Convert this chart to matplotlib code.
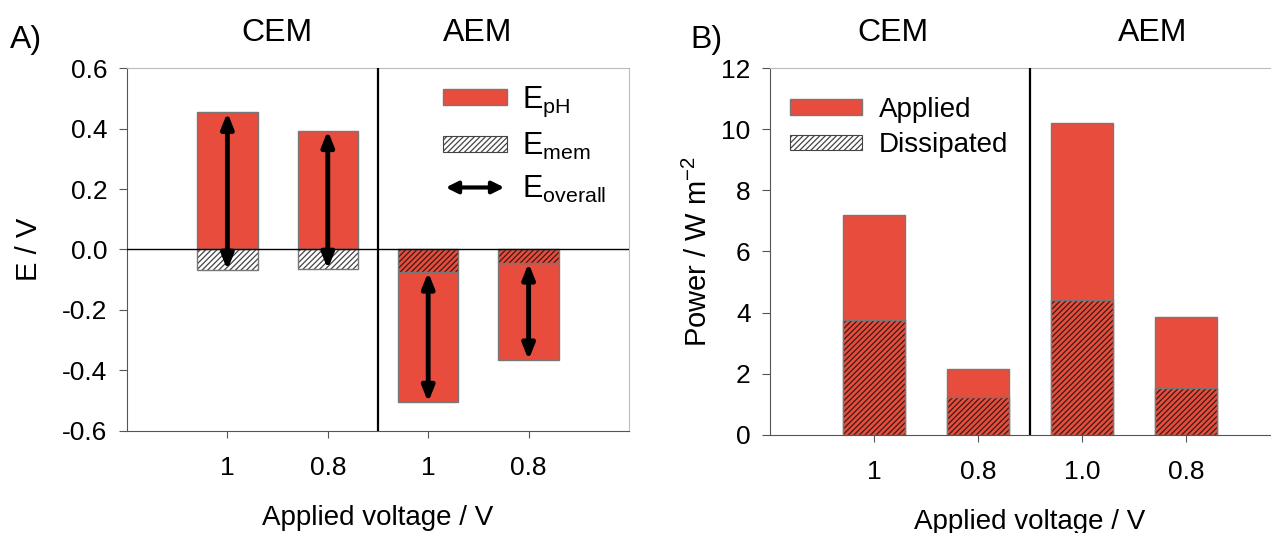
import matplotlib
matplotlib.use("Agg")
import matplotlib.pyplot as plt
import numpy as np
from matplotlib.patches import Patch, FancyArrowPatch
from matplotlib.legend_handler import HandlerBase

plt.rcParams['font.family'] = ['Liberation Sans', 'DejaVu Sans']
plt.rcParams['mathtext.fontset'] = 'custom'
plt.rcParams['mathtext.rm'] = 'Liberation Sans'
plt.rcParams['mathtext.it'] = 'Liberation Sans'
plt.rcParams['hatch.linewidth'] = 0.9

# panel A data (V)
voltage_labels_a = ['1', '0.8', '1', '0.8']
e_ph = [0.453, 0.393, -0.430, -0.320]
e_mem = [-0.068, -0.065, -0.075, -0.045]
is_aem = [False, False, True, True]

# panel B data (W m-2)
voltage_labels_b = ['1', '0.8', '1.0', '0.8']
p_applied = [7.2, 2.15, 10.2, 3.85]
p_dissipated = [3.75, 1.25, 4.4, 1.55]

groups = ['CEM', 'AEM']

RED = '#E74C3C'
EDGE = '#777777'
HATCH_DARK = '#3a1a16'
ARROW = '<|-|>,head_length=0.45,head_width=0.18'


class ArrowHandler(HandlerBase):
    def create_artists(self, legend, orig_handle, xdescent, ydescent,
                       width, height, fontsize, trans):
        y = height / 2 - ydescent
        p = FancyArrowPatch((-xdescent + 2, y), (width - xdescent - 2, y),
                            arrowstyle='<|-|>,head_length=0.5,head_width=0.25',
                            mutation_scale=14, lw=3, color='black',
                            shrinkA=0, shrinkB=0, transform=trans)
        return [p]


def hatched_bar(ax, x, h, bottom, face, hatch_color):
    ax.bar(x, h, 0.6, bottom=bottom, color=face, edgecolor=hatch_color,
           hatch='//////', linewidth=0, zorder=2)
    ax.bar(x, h, 0.6, bottom=bottom, facecolor='none', edgecolor=EDGE,
           linewidth=1.0, zorder=3)


def style_axes(ax):
    for s in ['top', 'right']:
        ax.spines[s].set_color('#bbbbbb')
    ax.spines['left'].set_color('#555555')
    ax.spines['bottom'].set_color('#555555')
    ax.tick_params(axis='both', labelsize=19, color='#555555', direction='out')
    ax.tick_params(axis='x', length=5, pad=13)
    ax.tick_params(axis='y', length=6, pad=8)


fig = plt.figure(figsize=(12.71, 5.33), dpi=100)

# ---------- panel A ----------
axa = fig.add_axes([0.0999, 0.1914, 0.395, 0.681])
x = np.arange(1, len(e_ph) + 1)
e_ph_arr = np.array(e_ph)
e_mem_arr = np.array(e_mem)
bottom_ph = np.where(e_ph_arr < 0, e_mem_arr, 0.0)

axa.bar(x, e_ph_arr, 0.6, bottom=bottom_ph, color=RED, edgecolor=EDGE,
        linewidth=1.0, zorder=2)
for xi, m, aem in zip(x, e_mem, is_aem):
    if aem:
        hatched_bar(axa, xi, m, 0, RED, HATCH_DARK)
    else:
        hatched_bar(axa, xi, m, 0, 'white', '#444444')

for xi, m, b, h in zip(x, e_mem_arr, bottom_ph, e_ph_arr):
    axa.annotate('', xy=(xi, b + h), xytext=(xi, m),
                 arrowprops=dict(arrowstyle=ARROW, lw=3.5, color='black',
                                 mutation_scale=20, shrinkA=0, shrinkB=0),
                 zorder=5)

axa.axhline(0, color='black', lw=1.0, zorder=4)
axa.axvline(2.5, color='black', lw=1.6, zorder=4)
axa.set_xlim(0, 5)
axa.set_ylim(-0.6, 0.6)
axa.set_yticks(np.arange(-0.6, 0.61, 0.2))
axa.set_yticklabels([f'{v:.1f}' for v in np.arange(-0.6, 0.61, 0.2)])
axa.set_xticks(x)
axa.set_xticklabels(voltage_labels_a)
style_axes(axa)
axa.set_ylabel('E / V', fontsize=21, labelpad=14)
axa.set_xlabel('Applied voltage / V', fontsize=20, labelpad=18)

handles_a = [Patch(facecolor=RED, edgecolor=EDGE),
             Patch(facecolor='white', edgecolor='#444444', hatch='//////', linewidth=0.8),
             FancyArrowPatch((0, 0), (1, 1))]
labels_a = [r'E$_{\mathrm{pH}}$', r'E$_{\mathrm{mem}}$', r'E$_{\mathrm{overall}}$']
axa.legend(handles_a, labels_a, loc='upper right', frameon=False, fontsize=22,
           handlelength=2.1, handleheight=0.45, handletextpad=0.5,
           labelspacing=0.4, bbox_to_anchor=(1.01, 1.03),
           handler_map={FancyArrowPatch: ArrowHandler()})

# ---------- panel B ----------
axb = fig.add_axes([0.6058, 0.1839, 0.409, 0.6885])
xb = np.arange(1, len(p_applied) + 1)
axb.bar(xb, p_applied, 0.6, color=RED, edgecolor=EDGE, linewidth=1.0, zorder=2)
for xi, d in zip(xb, p_dissipated):
    hatched_bar(axb, xi, d, 0, RED, HATCH_DARK)
axb.axvline(2.5, color='black', lw=1.6, zorder=4)
axb.set_xlim(0, 5)
axb.set_ylim(0, 12)
axb.set_yticks(np.arange(0, 13, 2))
axb.set_xticks(xb)
axb.set_xticklabels(voltage_labels_b)
style_axes(axb)
axb.set_ylabel(r'Power / W m$^{-2}$', fontsize=21, labelpad=6)
axb.set_xlabel('Applied voltage / V', fontsize=20, labelpad=18)

handles_b = [Patch(facecolor=RED, edgecolor=EDGE),
             Patch(facecolor='white', edgecolor='#444444', hatch='//////', linewidth=0.8)]
axb.legend(handles_b, ['Applied', 'Dissipated'], loc='upper left', frameon=False,
           fontsize=20, handlelength=2.6, handleheight=0.5, handletextpad=0.6,
           labelspacing=0.35, bbox_to_anchor=(-0.01, 0.99))

# panel letters and group headers
fig.text(0.008, 0.925, 'A)', fontsize=23, va='center')
fig.text(0.543, 0.925, 'B)', fontsize=23, va='center')
fig.text(0.218, 0.938, groups[0], fontsize=23, ha='center', va='center')
fig.text(0.376, 0.938, groups[1], fontsize=23, ha='center', va='center')
fig.text(0.7026, 0.938, groups[0], fontsize=23, ha='center', va='center')
fig.text(0.907, 0.938, groups[1], fontsize=23, ha='center', va='center')

fig.savefig('out.png', dpi=100)
